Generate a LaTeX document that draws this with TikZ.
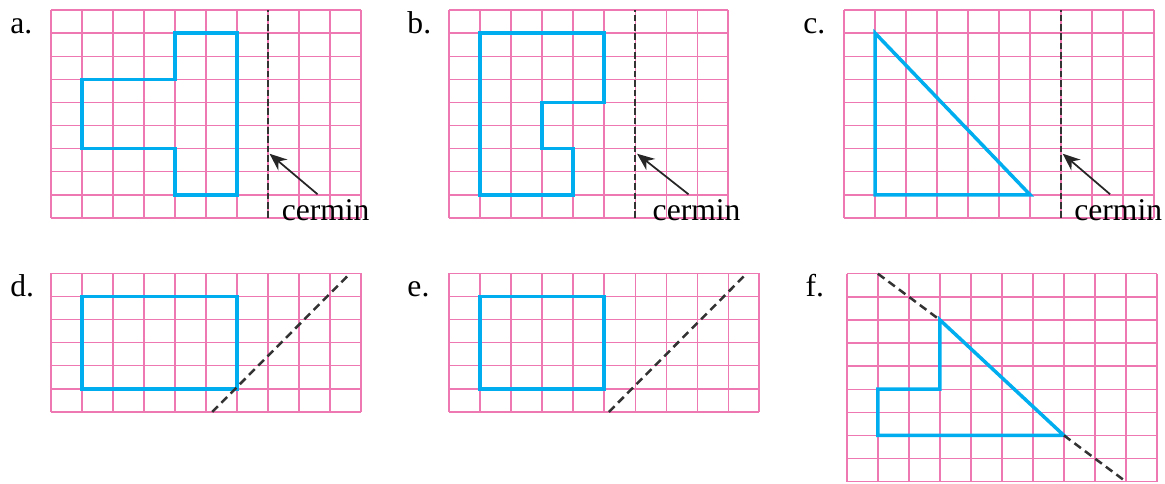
\documentclass[tikz,border=0pt]{standalone}
\usepackage{fontspec}
\setmainfont{Liberation Serif}
\usepackage{xcolor}
\definecolor{cPink}{HTML}{EE78B2}
\definecolor{cCyan}{HTML}{00AEEF}
\definecolor{cInk} {HTML}{333333}
\usepackage{tikz}
\usetikzlibrary{arrows.meta}
\tikzset{
  grd/.style = {draw=cPink, line width=0.65pt, step={(1,1)}},
  shp/.style = {draw=cCyan, line width=1.6pt, line join=miter},
  mir/.style = {draw=cInk, line width=0.7pt, dash pattern=on 3pt off 1.3pt},
  axs/.style = {draw=cInk, line width=1.15pt, dash pattern=on 3.7pt off 2.3pt},
  arr/.style = {-{Stealth[length=8pt,width=6.5pt]}, draw=black!85,
                line width=0.8pt},
  lbl/.style = {font=\fontsize{14.5}{17}\selectfont, inner sep=0pt,
                anchor=base west},
  cer/.style = {font=\fontsize{14.5}{17}\selectfont, inner sep=2pt,
                anchor=base},
}

\begin{document}
\begin{tikzpicture}[x=0.5cm, y=0.37258cm]
  \useasboundingbox (0,0) rectangle (37.58,20.95);

  %% Panel labels
  \node[lbl] (labA) at (0.32,19.52)  {a.};
  \node[lbl] (labB) at (13.13,19.52) {b.};
  \node[lbl] (labC) at (25.90,19.52) {c.};
  \node[lbl] (labD) at (0.32,8.12)   {d.};
  \node[lbl] (labE) at (13.13,8.12)  {e.};
  \node[lbl] (labF) at (25.97,8.12)  {f.};

  %% a.
  \begin{scope}[shift={(1.645,11.515)}]
    \draw[grd] (0,0) grid (10,9);
    \draw[shp] (4,8) -- (6,8) -- (6,1) -- (4,1) -- (4,3) -- (1,3)
               -- (1,6) -- (4,6) -- cycle;
    \draw[mir] (7,0) -- (7,9);
    \coordinate (tipA) at (7.05,2.78);
    \node[cer] (cermA) at (8.86,-0.09) {cermin};
    \draw[arr] ([xshift=-1.3mm]cermA.north) -- (tipA);
  \end{scope}

  %% b.
  \begin{scope}[shift={(14.49,11.515)}]
    \draw[grd] (0,0) grid (9,9);
    \draw[shp] (1,8) -- (5,8) -- (5,5) -- (3,5) -- (3,3) -- (4,3)
               -- (4,1) -- (1,1) -- cycle;
    \draw[mir] (6,0) -- (6,9);
    \coordinate (tipB) at (6.06,2.78);
    \node[cer] (cermB) at (7.98,-0.09) {cermin};
    \draw[arr] ([xshift=-1.3mm]cermB.north) -- (tipB);
  \end{scope}

  %% c.
  \begin{scope}[shift={(27.23,11.515)}]
    \draw[grd] (0,0) grid (10,9);
    \draw[shp] (1,8) -- (1,1) -- (6,1) -- cycle;
    \draw[mir] (7,0) -- (7,9);
    \coordinate (tipC) at (7.05,2.78);
    \node[cer] (cermC) at (8.84,-0.09) {cermin};
    \draw[arr] ([xshift=-1.3mm]cermC.north) -- (tipC);
  \end{scope}

  %% d.
  \begin{scope}[shift={(1.645,3.117)}]
    \draw[grd] (0,0) grid (10,6);
    \draw[shp] (1,1) rectangle (6,5);
    \draw[axs] (5.2,0) -- (9.65,6);
  \end{scope}

  %% e.
  \begin{scope}[shift={(14.49,3.117)}]
    \draw[grd] (0,0) grid (10,6);
    \draw[shp] (1,1) rectangle (5,5);
    \draw[axs] (5.15,0) -- (9.6,6);
  \end{scope}

  %% f.
  \begin{scope}[shift={(27.32,0.1)}]
    \draw[grd] (0,0) grid (10,9);
    \draw[shp] (3,7) -- (3,4) -- (1,4) -- (1,2) -- (7,2) -- cycle;
    \draw[axs] (1,9) -- (3,7) (7,2) -- (9,0);
  \end{scope}

\end{tikzpicture}
\end{document}
